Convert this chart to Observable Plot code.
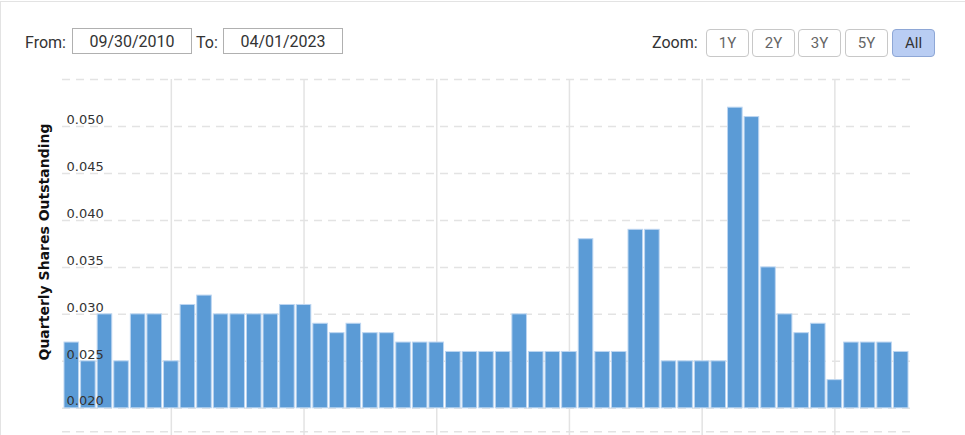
<!DOCTYPE html>
<html>
<head>
<meta charset="utf-8">
<script src="https://cdn.jsdelivr.net/npm/d3@7"></script>
<script src="https://cdn.jsdelivr.net/npm/@observablehq/plot@0.6"></script>
<style>
  html, body { margin: 0; padding: 0; background: #fff; }
  #wrap { position: relative; width: 964px; height: 433px; border-top: 1px solid #e3e3e3; border-left: 1px solid #e3e3e3; margin-top: 1px; overflow: hidden; font-family: Roboto, "Liberation Sans", sans-serif; }
  #controls { position: relative; height: 68px; color: #333; font-size: 16px; }
  .lbl { position: absolute; top: 31px; line-height: 20px; }
  .inp { position: absolute; top: 26px; height: 26px; border: 1px solid #b0b0b0; box-sizing: border-box; text-align: center; line-height: 25px; color: #333; background: #fff; }
  .btn { position: absolute; top: 27px; width: 43px; height: 28px; box-sizing: border-box; border: 1px solid #c8c8c8; border-radius: 4px; text-align: center; line-height: 26px; color: #666; font-size: 15px; background: #fff; }
  .btn.on { background: #b9cdf3; border-color: #8ea7d6; color: #333; }
  #chart { position: absolute; left: -1px; top: 68px; }
</style>
</head>
<body>
<div id="wrap">
  <div id="controls">
    <span class="lbl" style="left:24px">From:</span>
    <div class="inp" style="left:71px;width:120px">09/30/2010</div>
    <span class="lbl" style="left:195px">To:</span>
    <div class="inp" style="left:222px;width:120px">04/01/2023</div>
    <span class="lbl" style="left:651px">Zoom:</span>
    <div class="btn" style="left:705px">1Y</div>
    <div class="btn" style="left:751px">2Y</div>
    <div class="btn" style="left:797px">3Y</div>
    <div class="btn" style="left:844px">5Y</div>
    <div class="btn on" style="left:891px">All</div>
  </div>
  <div id="chart"></div>
</div>
<script>
const dates = [
  "2010-09-30","2010-12-31",
  "2011-03-31","2011-06-30","2011-09-30","2011-12-31",
  "2012-03-31","2012-06-30","2012-09-30","2012-12-31",
  "2013-03-31","2013-06-30","2013-09-30","2013-12-31",
  "2014-03-31","2014-06-30","2014-09-30","2014-12-31",
  "2015-03-31","2015-06-30","2015-09-30","2015-12-31",
  "2016-03-31","2016-06-30","2016-09-30","2016-12-31",
  "2017-03-31","2017-06-30","2017-09-30","2017-12-31",
  "2018-03-31","2018-06-30","2018-09-30","2018-12-31",
  "2019-03-31","2019-06-30","2019-09-30","2019-12-31",
  "2020-03-31","2020-06-30","2020-09-30","2020-12-31",
  "2021-03-31","2021-06-30","2021-09-30","2021-12-31",
  "2022-03-31","2022-06-30","2022-09-30","2022-12-31",
  "2023-03-31"
];
const shares = [
  0.027, 0.025,
  0.030, 0.025, 0.030, 0.030,
  0.025, 0.031, 0.032, 0.030,
  0.030, 0.030, 0.030, 0.031,
  0.031, 0.029, 0.028, 0.029,
  0.028, 0.028, 0.027, 0.027,
  0.027, 0.026, 0.026, 0.026,
  0.026, 0.030, 0.026, 0.026,
  0.026, 0.038, 0.026, 0.026,
  0.039, 0.039, 0.025, 0.025,
  0.025, 0.025, 0.052, 0.051,
  0.035, 0.030, 0.028, 0.029,
  0.023, 0.027, 0.027, 0.027,
  0.026
];
const yTicks = [0.020, 0.025, 0.030, 0.035, 0.040, 0.045, 0.050];
const yGrid = [0.0175, 0.020, 0.025, 0.030, 0.035, 0.040, 0.045, 0.050, 0.055];
const xGridDates = ["2012-03-31","2014-03-31","2016-03-31","2018-03-31","2020-03-31","2022-03-31"];
const yTitle = "Quarterly Shares Outstanding";
const baseline = 0.020;

const data = dates.map((d, i) => ({date: d, value: shares[i]}));

const chart = Plot.plot({
  width: 965,
  height: 366,
  marginLeft: 62,
  marginRight: 55,
  marginTop: 9,
  marginBottom: 0,
  style: {fontFamily: "'DejaVu Sans', Verdana, sans-serif", fontSize: "13px", background: "transparent", overflow: "visible"},
  x: {type: "band", domain: dates, padding: 0.12, round: false, axis: null},
  y: {domain: [0.017, 0.055], axis: null},
  marks: [
    Plot.ruleY(yGrid, {stroke: "#e3e3e3", strokeWidth: 1.5, strokeDasharray: "8,6"}),
    Plot.ruleX(xGridDates, {stroke: "#e3e3e3", strokeWidth: 1.5}),
    Plot.barY(data, {x: "date", y1: baseline, y2: "value", fill: "#5b9bd6", stroke: "#bdd6f1", strokeWidth: 1}),
    Plot.text(yTicks, {y: d => d, text: d => d.toFixed(3), frameAnchor: "left", textAnchor: "start", dx: 4, dy: -7, fill: "#333", fontSize: 13}),
    Plot.text([yTitle], {text: d => d, frameAnchor: "left", textAnchor: "middle", rotate: -90, dx: -18, dy: -16, fontWeight: "bold", fill: "#111", fontSize: 14})
  ]
});
document.getElementById("chart").appendChild(chart);
</script>
</body>
</html>
